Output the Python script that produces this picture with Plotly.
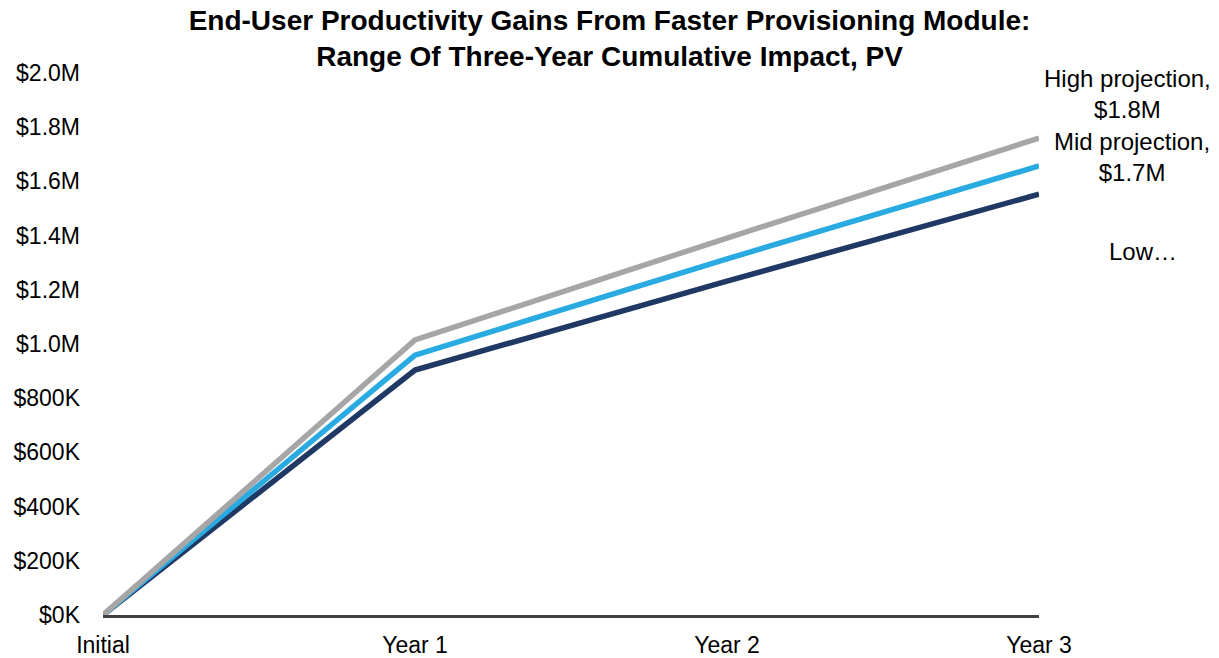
import plotly.graph_objects as go

categories = ["Initial", "Year 1", "Year 2", "Year 3"]
high_values = [0, 1015000, 1391000, 1760000]
mid_values = [0, 959000, 1314000, 1657000]
low_values = [0, 904000, 1232000, 1553000]

tick_vals = [0, 200000, 400000, 600000, 800000, 1000000, 1200000, 1400000, 1600000, 1800000, 2000000]
tick_text = ["$0K", "$200K", "$400K", "$600K", "$800K", "$1.0M", "$1.2M", "$1.4M", "$1.6M", "$1.8M", "$2.0M"]

title_text = "End-User Productivity Gains From Faster Provisioning Module:<br>Range Of Three-Year Cumulative Impact, PV"
labels = ["High projection,<br>$1.8M", "Mid projection,<br>$1.7M", "Low…"]

FONT = "Liberation Sans, Arial, sans-serif"

fig = go.Figure()
fig.add_trace(go.Scatter(x=categories, y=low_values, mode="lines", name="Low",
                         line=dict(color="#1F3864", width=5.5)))
fig.add_trace(go.Scatter(x=categories, y=mid_values, mode="lines", name="Mid",
                         line=dict(color="#29ABE2", width=5.5)))
fig.add_trace(go.Scatter(x=categories, y=high_values, mode="lines", name="High",
                         line=dict(color="#A6A6A6", width=5.5)))

ann_pos = [(1.095, 0.961), (1.099, 0.845), (1.111, 0.670)]
for txt, (ax, ay) in zip(labels, ann_pos):
    fig.add_annotation(text=txt, xref="paper", yref="paper", x=ax, y=ay,
                       showarrow=False, xanchor="center", yanchor="middle",
                       align="center", font=dict(family=FONT, size=24, color="#000000"))

fig.update_layout(
    width=1219, height=658,
    margin=dict(l=103, r=180, t=73, b=43, autoexpand=False),
    paper_bgcolor="white", plot_bgcolor="white",
    showlegend=False,
    font=dict(family=FONT, size=22, color="#000000"),
    title=dict(text=title_text, x=0.5, xref="container", xanchor="center",
               y=0.955, yref="container", yanchor="middle",
               font=dict(family=FONT, size=28, color="#000000", weight="bold")),
    xaxis=dict(type="category", range=[0, 3], showgrid=False, zeroline=False,
               showline=True, linecolor="#404040", linewidth=3,
               ticks="", ticklabelstandoff=7, automargin=False,
               tickfont=dict(family=FONT, size=23, color="#000000")),
    yaxis=dict(range=[0, 2000000], tickvals=tick_vals, ticktext=tick_text,
               showgrid=False, zeroline=False, showline=False, ticks="",
               ticklabelstandoff=22, automargin=False,
               tickfont=dict(family=FONT, size=23, color="#000000")),
)

fig.write_html("out.html", config={"displayModeBar": False},
               post_script="document.body.style.margin='0';")
